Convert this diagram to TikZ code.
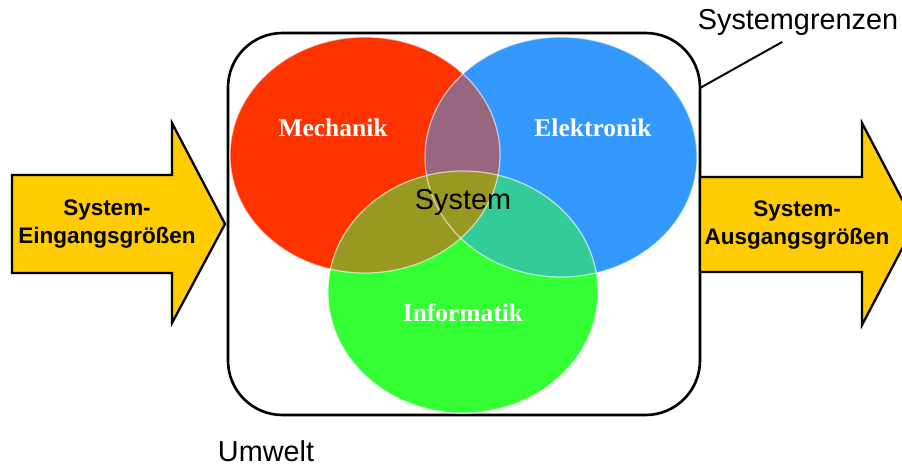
\documentclass[tikz,border=0pt]{standalone}
\usepackage{fontspec}
\setmainfont{Liberation Sans}
\newfontfamily\labelserif{Liberation Serif}
\usetikzlibrary{positioning}
\definecolor{cred}{HTML}{FF3300}
\definecolor{cblue}{HTML}{3399FF}
\definecolor{cgreen}{HTML}{33FF33}
\definecolor{cpurple}{HTML}{996680}
\definecolor{colive}{HTML}{999922}
\definecolor{cteal}{HTML}{33CC99}
\definecolor{carrow}{HTML}{FFCC00}
\tikzset{
  every picture/.style={line width=1.2pt},
  bigarrow/.style={draw=black, fill=carrow, line width=1.3pt, line join=miter},
  arrowtext/.style={font=\fontsize{12.8}{15.9}\selectfont\bfseries, align=center},
  fieldname/.style={font=\labelserif\fontsize{14.5}{16}\selectfont\bfseries, text=white},
  plain/.style={font=\fontsize{16.4}{19}\selectfont},
  rim/.style={draw=white, draw opacity=0.6, line width=0.7pt},
}

\begin{document}
\begin{tikzpicture}[x=0.02cm, y=-0.02cm]
  \useasboundingbox (0,0) rectangle (902,466);
  % system boundary
  \draw[line width=1.5pt, rounded corners=31pt] (228,33) rectangle (700,415);
  % the three fields
  \fill[cred] (365,155) ellipse (135 and 118);
  \fill[cblue] (561,157) ellipse (136 and 120);
  \fill[cgreen] (463,292) ellipse (135 and 121);
  \begin{scope}
    \clip (365,155) ellipse (135 and 118);
    \fill[cpurple] (561,157) ellipse (136 and 120);
  \end{scope}
  \begin{scope}
    \clip (561,157) ellipse (136 and 120);
    \fill[cteal] (463,292) ellipse (135 and 121);
  \end{scope}
  \begin{scope}
    \clip (365,155) ellipse (135 and 118);
    \fill[colive] (463,292) ellipse (135 and 121);
  \end{scope}
  \draw[rim] (365,155) ellipse (135 and 118);
  \draw[rim] (561,157) ellipse (136 and 120);
  \draw[rim] (463,292) ellipse (135 and 121);
  \node[fieldname] (mech) at (333,128) {Mechanik};
  \node[fieldname] (elek) at (593,128) {Elektronik};
  \node[fieldname] (info) at (463,313) {Informatik};
  \node[plain] (sys) at (463,202) {System};
  % input and output
  \draw[bigarrow] (12,175) -- (172,175) -- (172,123) -- (225,224) -- (172,323) -- (172,273) -- (12,273) -- cycle;
  \draw[bigarrow] (700,177) -- (862,177) -- (862,123) -- (915,224) -- (862,325) -- (862,272) -- (700,272) -- cycle;
  \node[arrowtext] (ein) at (107,224) {System-\\Eingangsgrößen};
  \node[arrowtext] (aus) at (797,225) {System-\\Ausgangsgrößen};
  % labels
  \node[plain] (grenz) at (798,22) {Systemgrenzen};
  \coordinate (hook) at (700,88);
  \draw[line width=1.1pt] ([xshift=-9pt]grenz.south) -- (hook);
  \node[plain] (umwelt) at (266,451) {Umwelt};
\end{tikzpicture}
\end{document}
